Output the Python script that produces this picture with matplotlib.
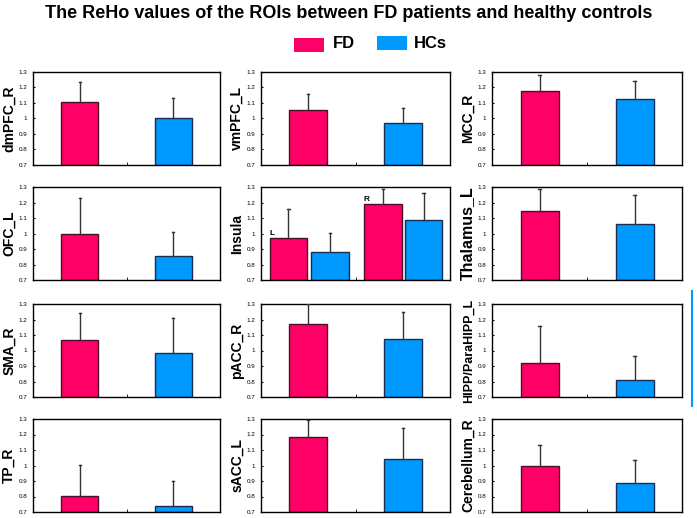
import matplotlib.pyplot as plt
from matplotlib.patches import Rectangle
from matplotlib.ticker import FuncFormatter
from matplotlib.lines import Line2D

plt.rcParams["font.family"] = ["Liberation Sans", "DejaVu Sans"]

# panel order: row by row
regions = ["dmPFC_R", "vmPFC_L", "MCC_R",
           "OFC_L", "Insula", "Thalamus_L",
           "SMA_R", "pACC_R", "HIPP/ParaHIPP_L",
           "TP_R", "sACC_L", "Cerebellum_R"]
fd_mean = [1.105, 1.055, 1.175, 1.0, None, 1.143, 1.065, 1.17, 0.92, 0.805, 1.185, 0.995]
fd_top = [1.235, 1.16, 1.282, 1.232, None, 1.29, 1.24, 1.3, 1.155, 1.005, 1.295, 1.135]
hc_mean = [1.005, 0.97, 1.123, 0.855, None, 1.06, 0.985, 1.075, 0.81, 0.74, 1.045, 0.885]
hc_top = [1.13, 1.07, 1.245, 1.01, None, 1.25, 1.21, 1.248, 0.965, 0.9, 1.24, 1.035]

# Insula: left and right hemispheres
insula_sides = ["L", "R"]
insula_fd_mean = [0.97, 1.19]
insula_fd_top = [1.155, 1.29]
insula_hc_mean = [0.88, 1.09]
insula_hc_top = [1.005, 1.26]

yticks = [0.7, 0.8, 0.9, 1.0, 1.1, 1.2, 1.3]

FD_COLOR = "#ff0066"
HC_COLOR = "#0099ff"
FD_EDGE = "#4a1028"
HC_EDGE = "#1c2c50"

# label sizes differ a bit between panels in the original
label_size = {"Thalamus_L": 11.5, "HIPP/ParaHIPP_L": 9}

W, H = 697, 518
col_px = [(33, 220), (261, 450), (492, 682)]
row_px = [(72, 165), (187, 280), (304, 397), (419, 512)]


def draw_bars(ax, xs, means, tops, color, edge, width):
    ax.bar(xs, [m - 0.7 for m in means], bottom=0.7, width=width,
           color=color, edgecolor=edge, linewidth=1.0, zorder=2)
    for x, m, t in zip(xs, means, tops):
        ax.plot([x, x], [m, t], color="#333333", linewidth=1.0, zorder=3)
        ax.plot([x - 0.012, x + 0.012], [t, t], color="#333333", linewidth=1.0, zorder=3)


fig = plt.figure(figsize=(W / 100, H / 100), dpi=100)

for i, name in enumerate(regions):
    r, c = divmod(i, 3)
    x0, x1 = col_px[c]
    y0, y1 = row_px[r]
    ax = fig.add_axes([x0 / W, 1 - y1 / H, (x1 - x0) / W, (y1 - y0) / H])
    if name == "Insula":
        draw_bars(ax, [0.29, 1.29], insula_fd_mean, insula_fd_top, FD_COLOR, FD_EDGE, 0.4)
        draw_bars(ax, [0.73, 1.72], insula_hc_mean, insula_hc_top, HC_COLOR, HC_EDGE, 0.4)
        for xs, m, lab in zip([0.12, 1.12], insula_fd_mean, insula_sides):
            ax.text(xs, m + 0.005, lab, fontsize=6, fontweight="bold", ha="center", va="bottom")
    else:
        draw_bars(ax, [0.5], [fd_mean[i]], [fd_top[i]], FD_COLOR, FD_EDGE, 0.4)
        draw_bars(ax, [1.5], [hc_mean[i]], [hc_top[i]], HC_COLOR, HC_EDGE, 0.4)
    ax.set_xlim(0, 2)
    ax.set_ylim(0.7, 1.3)
    ax.set_yticks(yticks)
    ax.yaxis.set_major_formatter(FuncFormatter(lambda v, p: "%g" % round(v, 1)))
    ax.tick_params(axis="y", labelsize=4.5, length=1.5, direction="in", pad=4)
    ax.set_xticks([1])
    ax.set_xticklabels([])
    ax.tick_params(axis="x", length=2, direction="in", width=0.6)
    for s in ax.spines.values():
        s.set_linewidth(1.0)
    ax.set_ylabel(name, fontsize=label_size.get(name, 10), fontweight="bold", labelpad=2)

fig.text(0.5, 1 - 14 / H, "The ReHo values of the ROIs between FD patients and healthy controls",
         ha="center", va="center", fontsize=13, fontweight="bold")

# legend
fig.patches.append(Rectangle((294 / W, 1 - 52 / H), 30 / W, 14 / H, transform=fig.transFigure,
                             facecolor=FD_COLOR, edgecolor="none"))
fig.text(333 / W, 1 - 44 / H, "FD", fontsize=12, fontweight="bold", va="center")
fig.patches.append(Rectangle((377 / W, 1 - 50 / H), 30 / W, 14 / H, transform=fig.transFigure,
                             facecolor=HC_COLOR, edgecolor="none"))
fig.text(414 / W, 1 - 44 / H, "HCs", fontsize=12, fontweight="bold", va="center")

# stray blue line at right edge
fig.add_artist(Line2D([692 / W, 692 / W], [1 - 291 / H, 1 - 406 / H], color=HC_COLOR, linewidth=1.5))

fig.savefig("out.png", dpi=100)
